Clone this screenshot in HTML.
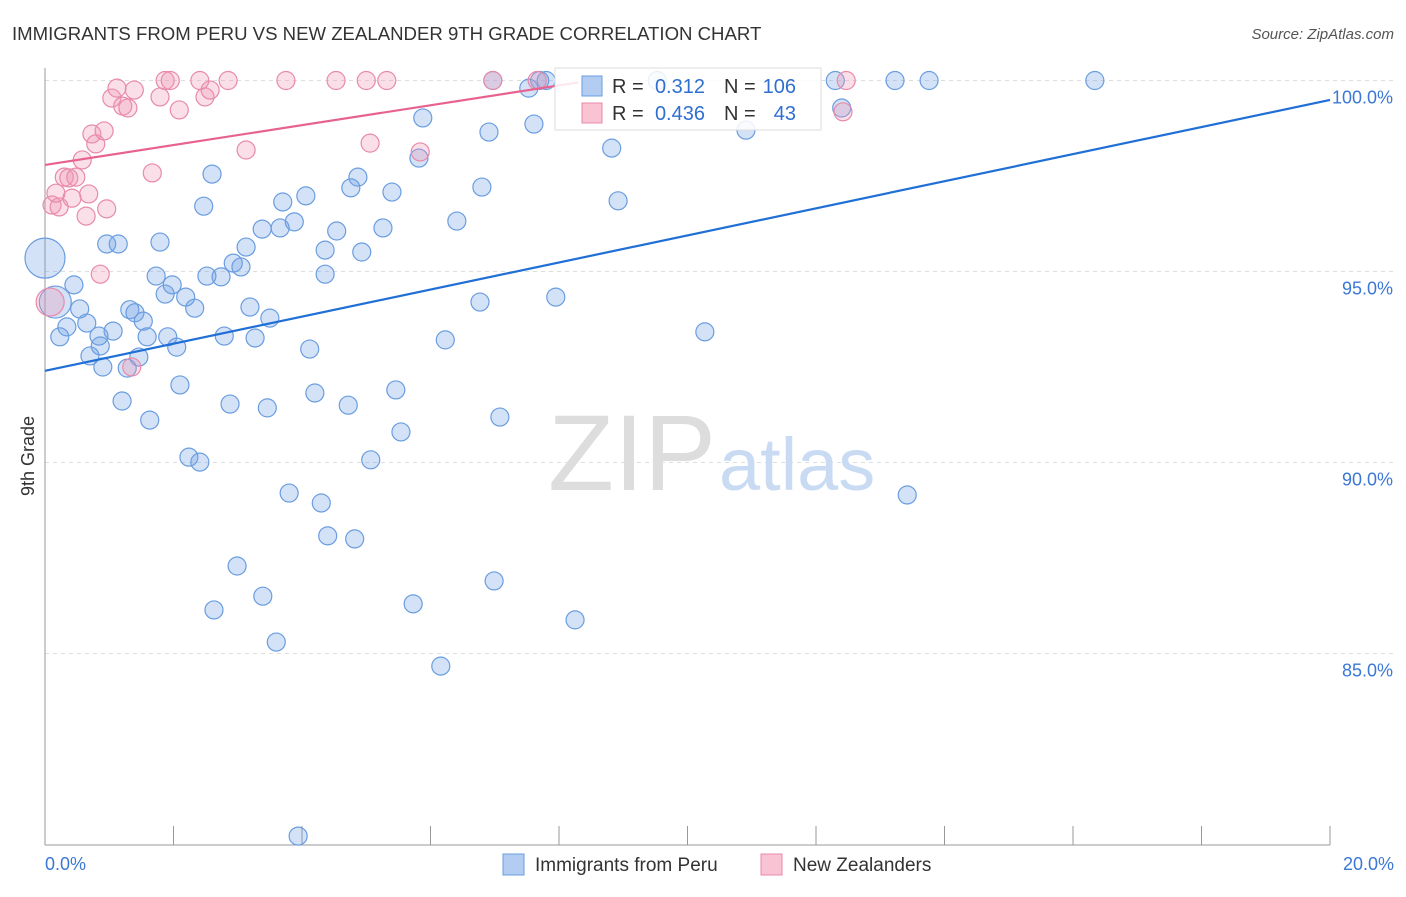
<!DOCTYPE html>
<html><head><meta charset="utf-8"><style>
body{margin:0;background:#fff;font-family:"Liberation Sans",sans-serif}
svg text{font-family:"Liberation Sans",sans-serif}
</style></head><body>
<svg id="c" width="1406" height="892" xmlns="http://www.w3.org/2000/svg">
<text x="12" y="40" font-size="18.6" fill="#333">IMMIGRANTS FROM PERU VS NEW ZEALANDER 9TH GRADE CORRELATION CHART</text>
<text x="1394" y="39" font-size="15" fill="#555" font-style="italic" text-anchor="end">Source: ZipAtlas.com</text>
<g id="grid"></g>
<text x="716" y="490" font-size="108" font-family="Liberation Serif" fill="#ddd" text-anchor="end">ZIP</text>
<text x="719" y="490" font-size="74" fill="#c9dbf3">atlas</text>
<g id="pts"></g>
<g id="lines"></g>
<text transform="translate(34,456) rotate(-90)" font-size="18" fill="#333" text-anchor="middle">9th Grade</text>
<g>
<rect x="555" y="68" width="266" height="62" fill="rgba(255,255,255,0.85)" stroke="#ddd"/>
<rect x="582" y="76" width="20" height="20" fill="#b3cdf2" stroke="#6a9de0"/>
<rect x="582" y="103" width="20" height="20" fill="#f9c3d3" stroke="#e88aa8"/>
<text x="612" y="93" font-size="20" fill="#333">R =</text>
<text x="705" y="93" font-size="20" fill="#2f6fd0" text-anchor="end">0.312</text>
<text x="724" y="93" font-size="20" fill="#333">N =</text>
<text x="796" y="93" font-size="20" fill="#2f6fd0" text-anchor="end">106</text>
<text x="612" y="120" font-size="20" fill="#333">R =</text>
<text x="705" y="120" font-size="20" fill="#2f6fd0" text-anchor="end">0.436</text>
<text x="724" y="120" font-size="20" fill="#333">N =</text>
<text x="796" y="120" font-size="20" fill="#2f6fd0" text-anchor="end">43</text>
</g>
<g>
<rect x="503" y="854" width="21" height="21" fill="#b3cdf2" stroke="#6a9de0"/>
<text x="535" y="871" font-size="19" fill="#333">Immigrants from Peru</text>
<rect x="761" y="854" width="21" height="21" fill="#f9c3d3" stroke="#e88aa8"/>
<text x="793" y="871" font-size="19" fill="#333">New Zealanders</text>
</g>
</svg>
<script>
const xTicks=[0,2,4,6,8,10,12,14,16,18,20];
const yTicks=[85,90,95,100];
const blueX=[0.00,0.16,0.45,0.23,0.34,0.54,0.65,0.84,0.86,0.90,0.70,1.06,0.96,1.14,1.32,1.40,1.53,1.46,1.28,1.20,1.63,1.59,1.73,1.79,1.87,1.98,1.91,2.05,2.19,2.33,2.10,2.24,2.41,2.47,2.60,2.52,2.74,2.79,2.93,3.05,3.13,3.19,3.27,2.88,2.99,2.63,3.39,3.60,3.94,3.46,3.50,3.38,3.66,3.70,3.88,4.06,4.36,4.36,4.12,4.20,3.80,4.30,4.40,4.82,4.72,4.54,4.76,4.87,4.93,5.07,5.26,5.40,5.46,5.54,5.73,5.82,5.88,6.16,6.23,6.41,6.77,6.80,6.91,6.99,7.08,6.97,7.53,7.61,7.80,7.95,8.25,8.82,8.92,9.53,10.27,10.91,12.30,12.40,13.23,13.76,16.34,13.42,7.70];
const blueY=[95.35,94.20,94.65,93.29,93.55,94.02,93.65,93.31,93.05,92.50,92.79,93.44,95.72,95.72,94.00,93.92,93.70,92.76,92.47,91.61,91.11,93.29,94.88,95.77,94.41,94.65,93.29,93.02,94.33,94.04,92.03,90.14,90.01,96.71,97.55,94.88,94.86,93.31,95.22,95.12,95.64,94.07,93.26,91.53,87.29,86.14,86.50,85.30,80.22,91.43,93.78,96.11,96.14,96.82,96.30,96.98,95.56,94.93,92.97,91.82,89.20,88.94,88.08,88.00,91.50,96.06,97.19,97.47,95.51,90.07,96.14,97.08,91.90,90.80,86.30,97.97,99.02,84.67,93.21,96.32,94.20,97.21,98.65,86.90,91.19,100,99.80,98.86,100,94.33,85.88,98.23,96.85,100,93.42,98.70,100,99.28,100,100,100,89.15,100];
const pinkX=[0.08,0.11,0.22,0.17,0.30,0.37,0.42,0.48,0.58,0.64,0.68,0.73,0.79,0.86,0.92,0.96,1.04,1.12,1.21,1.29,1.39,1.67,1.79,1.87,1.95,2.09,2.49,2.57,2.41,2.85,3.13,3.75,4.53,5.00,5.06,5.32,5.84,6.97,7.66,12.42,12.47,1.35];
const pinkY=[94.20,96.74,96.69,97.05,97.47,97.45,96.92,97.47,97.92,96.45,97.03,98.60,98.34,94.93,98.68,96.64,99.54,99.80,99.33,99.28,99.75,97.58,99.57,100,100,99.23,99.57,99.75,100,100,98.18,100,100,100,98.36,100,98.13,100,100,99.18,100,92.50];
const blueTrend=[92.4,99.49];
const pinkTrend=[97.79,99.95];
const pinkTrendEnd=8.3;
const NS='http://www.w3.org/2000/svg';
const X=v=>45+v*64.25, Y=v=>80.5+(100-v)*38.2;
function mk(t,a,p){const e=document.createElementNS(NS,t);for(const k in a)e.setAttribute(k,a[k]);p.appendChild(e);return e;}
const g=document.getElementById('grid');
yTicks.forEach(v=>{
 const l=mk('line',{x1:45,x2:1395,y1:Y(v),y2:Y(v),stroke:'#ddd','stroke-dasharray':'4,4'},g);
 
 
 const t=mk('text',{x:1393,y:Y(v)+23,'font-size':18,fill:'#3b78d6','text-anchor':'end'},g);
 t.textContent=v.toFixed(1)+'%';
 
 
});
mk('line',{x1:45,x2:45,y1:68,y2:845,stroke:'#999'},g);
mk('line',{x1:45,x2:1330,y1:845,y2:845,stroke:'#999'},g);
xTicks.forEach(v=>{
 const l=mk('line',{x1:X(v),x2:X(v),y1:826,y2:845,stroke:'#999'},g);
 
 
});
[[0,'0.0%','start',45],[20,'20.0%','end',1394]].forEach(a=>{
 const t=mk('text',{x:a[3],y:870,'font-size':18,fill:'#3b78d6','text-anchor':a[2]},g);
 t.textContent=a[1];
 
 
});
const p=document.getElementById('pts');
blueX.forEach((x,i)=>{
 const r=i==0?20:(i==1?16:9);
 const c=mk('circle',{cx:X(x),cy:Y(blueY[i]),r:r,fill:'rgba(110,160,230,0.3)',stroke:'#6a9de0','stroke-width':1.2},p);
 
 
});
pinkX.forEach((x,i)=>{
 const r=i==0?14:9;
 const c=mk('circle',{cx:X(x),cy:Y(pinkY[i]),r:r,fill:'rgba(240,150,180,0.3)',stroke:'#e88aa8','stroke-width':1.2},p);
 
 
});
const L=document.getElementById('lines');
const bl=mk('line',{x1:X(0),y1:Y(blueTrend[0]),x2:X(20),y2:Y(blueTrend[1]),stroke:'#1f6fd6','stroke-width':2.2},L);


const pl=mk('line',{x1:X(0),y1:Y(pinkTrend[0]),x2:X(pinkTrendEnd),y2:Y(pinkTrend[1]),stroke:'#e8628f','stroke-width':2.2},L);


</script>
</body></html>
